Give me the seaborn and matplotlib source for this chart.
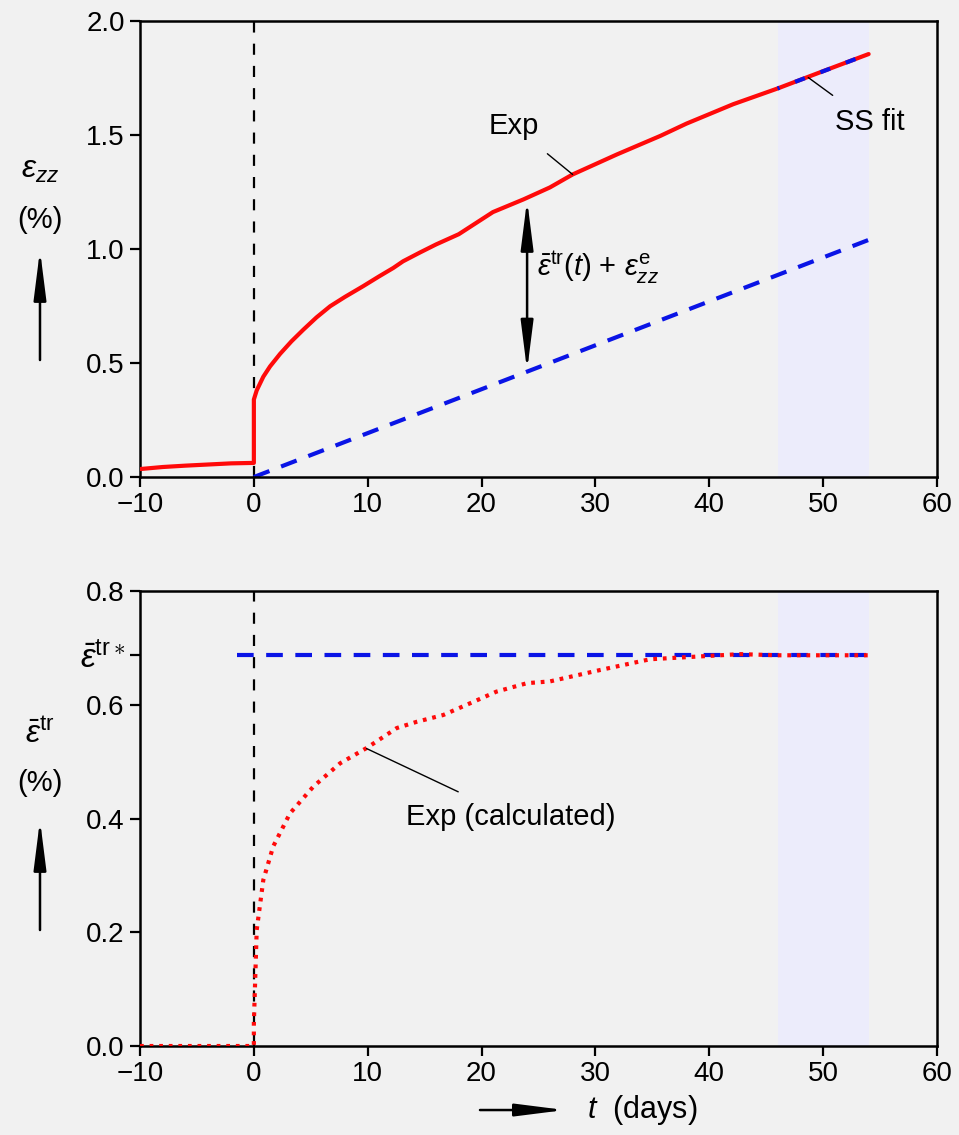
import numpy as np
import pandas as pd
import matplotlib
matplotlib.use("Agg")
import matplotlib.pyplot as plt
import seaborn as sns

# data
t_exp = [-10, -8, -6, -4, -2, 0, 0, 0.25, 0.83, 1.42, 2.3, 3.3, 4.34, 5.5,
         6.7, 8, 9.6, 11, 12.25, 13.1, 14.6, 16, 18, 21, 23.7, 26, 28, 31.9,
         35.7, 38, 42.1, 46, 50, 54]
eps_exp = [0.035, 0.044, 0.05, 0.055, 0.06, 0.062, 0.34, 0.38, 0.44, 0.485,
           0.54, 0.595, 0.646, 0.70, 0.749, 0.79, 0.837, 0.88, 0.917, 0.946, 0.985,
           1.02, 1.065, 1.162, 1.218, 1.27, 1.327, 1.415, 1.496, 1.55, 1.635,
           1.704, 1.78, 1.855]
t_line = [0, 54]
eps_line = [0.0, 1.04]
t_ss = [46, 54]
eps_ss = [1.704, 1.855]

t_tr = [-10, 0, 0, 0.25, 0.83, 1.7, 3.17, 5.22, 7.57, 9.91, 12.55, 14.3, 16.64,
        19.27, 21.3, 24, 26, 30.4, 34.8, 39.2, 42.7, 46, 50, 54]
eps_tr = [0.0, 0.0, 0.04, 0.204, 0.292, 0.351, 0.409, 0.456, 0.497, 0.524, 0.559,
          0.570, 0.582, 0.605, 0.623, 0.638, 0.641, 0.661, 0.680, 0.685, 0.689,
          0.687, 0.687, 0.687]
eps_star = 0.687
t_star = [-1.5, 54]
ss_window = (46, 54)

xticks = [-10, 0, 10, 20, 30, 40, 50, 60]
yticks_top = [0.0, 0.5, 1.0, 1.5, 2.0]
yticks_bot = [0.0, 0.2, 0.4, 0.6, 0.8]

sns.set_theme(style="ticks")
plt.rcParams['font.family'] = ['Liberation Sans', 'DejaVu Sans']
plt.rcParams['mathtext.fontset'] = 'custom'
plt.rcParams['mathtext.rm'] = 'Liberation Sans'
plt.rcParams['mathtext.it'] = 'Liberation Sans:italic'
plt.rcParams['mathtext.bf'] = 'Liberation Sans:bold'
plt.rcParams['text.color'] = 'black'
plt.rcParams['xtick.color'] = 'black'
plt.rcParams['ytick.color'] = 'black'
plt.rcParams['xtick.labelcolor'] = 'black'
plt.rcParams['ytick.labelcolor'] = 'black'

RED = '#ff0a0a'
BLUE = '#0a14e6'
SHADE = '#ececfb'
BG = '#f1f1f1'
FS = 21

fig = plt.figure(figsize=(9.59, 11.35), dpi=100, facecolor=BG)
ax1 = fig.add_axes([0.146, 0.5797, 0.831, 0.4018])
ax2 = fig.add_axes([0.146, 0.0784, 0.831, 0.4009])

for ax in (ax1, ax2):
    ax.set_facecolor('none')
    for s in ax.spines.values():
        s.set_linewidth(1.8)
        s.set_color('black')
        s.set_visible(True)
    ax.tick_params(direction='out', length=7, width=1.6, labelsize=20,
                   colors='black', pad=4)
    ax.set_xlim(-10, 60)
    ax.set_xticks(xticks)
    ax.set_xticklabels(['\u221210' if v < 0 else str(v) for v in xticks])
    ax.axvspan(*ss_window, color=SHADE, zorder=0, lw=0)
    ax.axvline(0, color='black', lw=1.6, ls=(0, (5, 5)), zorder=1)

# top panel
ax1.set_ylim(0, 2.0)
ax1.set_yticks(yticks_top)
ax1.set_yticklabels([f'{v:.1f}' for v in yticks_top])
sns.lineplot(x=t_line, y=eps_line, ax=ax1, color=BLUE, lw=3, ls=(0, (4, 3)),
             estimator=None, sort=False, zorder=2)
sns.lineplot(x=t_exp, y=eps_exp, ax=ax1, color=RED, lw=3, estimator=None,
             sort=False, zorder=3)
sns.lineplot(x=t_ss, y=eps_ss, ax=ax1, color=BLUE, lw=3, ls=(2, (2.5, 4)),
             estimator=None, sort=False, zorder=4)

ax1.annotate('', xy=(24, eps_line[1] / 54 * 24 + 0.005), xytext=(24, 1.215),
             arrowprops=dict(arrowstyle='<|-|>,head_length=1.5,head_width=0.19',
                             color='black', lw=1.8, mutation_scale=20,
                             shrinkA=0, shrinkB=0), zorder=5)
ax1.text(24.9, 0.92, r'$\bar{\varepsilon}^{\mathrm{tr}}(t)$ + $\varepsilon_{zz}^{\mathrm{e}}$',
         fontsize=FS, va='center', ha='left')
ax1.annotate('Exp', xy=(28.0, 1.327), xytext=(22.8, 1.54), fontsize=FS,
             ha='center', va='center',
             arrowprops=dict(arrowstyle='-', color='black', lw=1.0,
                             shrinkA=12, shrinkB=0))
ax1.annotate('SS fit', xy=(48.7, 1.752), xytext=(54.1, 1.555), fontsize=FS,
             ha='center', va='center',
             arrowprops=dict(arrowstyle='-', color='black', lw=1.0,
                             shrinkA=12, shrinkB=0))

# bottom panel
ax2.set_ylim(0, 0.8)
ax2.set_yticks(yticks_bot + [eps_star])
ax2.set_yticklabels([f'{v:.1f}' for v in yticks_bot] +
                    [r'$\bar{\varepsilon}^{\mathrm{tr}\ast}$'])
ax2.get_yticklabels()[-1].set_fontsize(24)
sns.lineplot(x=t_star, y=[eps_star, eps_star], ax=ax2, color=BLUE, lw=3,
             ls=(0, (4, 3)), estimator=None, sort=False, zorder=2)
sns.lineplot(x=t_tr, y=eps_tr, ax=ax2, color=RED, lw=3, ls=(0, (0.9, 1.4)),
             estimator=None, sort=False, zorder=3)
ax2.annotate('Exp (calculated)', xy=(9.9, 0.523), xytext=(22.6, 0.403),
             fontsize=FS, ha='center', va='center',
             arrowprops=dict(arrowstyle='-', color='black', lw=1.0,
                             shrinkA=13, shrinkB=0))

for ax in (ax1, ax2):
    ax.set_xlabel('')
    ax.set_ylabel('')

# y labels with upward arrows
fig.text(0.0417, 0.850, r'$\varepsilon_{zz}$', fontsize=23, ha='center', va='center')
fig.text(0.0417, 0.806, '(%)', fontsize=FS, ha='center', va='center')
fig.text(0.0417, 0.3524, r'$\bar{\varepsilon}^{\mathrm{tr}}$', fontsize=23,
         ha='center', va='center')
fig.text(0.0417, 0.310, '(%)', fontsize=FS, ha='center', va='center')
arr = dict(arrowstyle='-|>,head_length=1.5,head_width=0.19', color='black',
           lw=1.8, mutation_scale=20, shrinkA=0, shrinkB=0)
fig.add_artist(matplotlib.patches.FancyArrowPatch((0.0417, 0.6828), (0.0417, 0.7797),
               transform=fig.transFigure, **arr))
fig.add_artist(matplotlib.patches.FancyArrowPatch((0.0417, 0.1806), (0.0417, 0.2775),
               transform=fig.transFigure, **arr))
fig.add_artist(matplotlib.patches.FancyArrowPatch((0.5005, 0.022), (0.589, 0.022),
               transform=fig.transFigure, **arr))
fig.text(0.612, 0.022, r'$t$  (days)', fontsize=22, ha='left', va='center')

fig.savefig('out.png', dpi=100, facecolor=BG)
